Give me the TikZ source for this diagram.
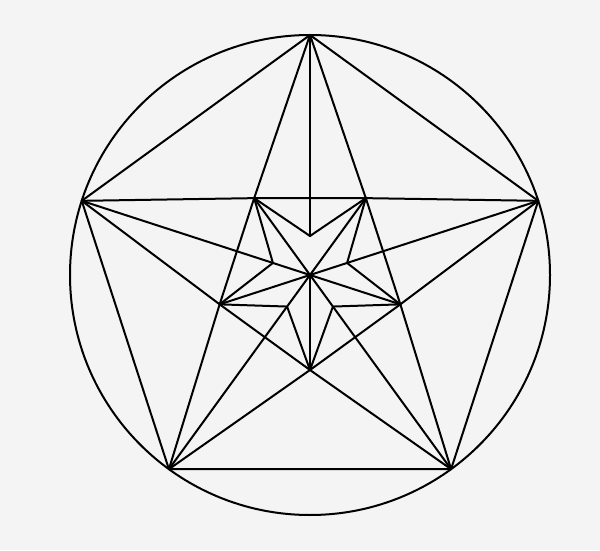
\documentclass[tikz,border=0pt]{standalone}
\definecolor{bgc}{HTML}{F4F4F4}
\begin{document}
\begin{tikzpicture}[x=1pt,y=1pt,
  ln/.style={draw=black,line width=2pt,line join=round,line cap=round}]
\fill[bgc] (0,0) rectangle (600,550);
\useasboundingbox (0,0) rectangle (600,550);
\coordinate (C) at (310,275);
\foreach \a in {90,18,306,234,162}{
  \path (C) ++(\a:240) coordinate (O\a);
  \path (C) ++(\a:39) coordinate (B\a);
}
\foreach \a in {270,342,54,126,198}{
  \path (C) ++(\a:95) coordinate (A\a);
}
% circle
\draw[ln] (C) circle (240pt);
% outer pentagon
\draw[ln] (O90) -- (O18) -- (O306) -- (O234) -- (O162) -- cycle;
% pentagram
\draw[ln] (O90) -- (A54) -- (A342) -- (O306);
\draw[ln] (O90) -- (A126) -- (A198) -- (O234);
\draw[ln] (O18) -- (A342) -- (A270) -- (O234);
\draw[ln] (O18) -- (A54) -- (A126) -- (O162);
\draw[ln] (O306) -- (A270) -- (A198) -- (O162);
% small star
\draw[ln] (A54) -- (B90) -- (A126) -- (B162) -- (A198) -- (B234) -- (A270) -- (B306) -- (A342) -- (B18) -- cycle;
% ridges
\foreach \a in {270,342,54,126,198}{ \draw[ln] (C) -- (A\a); }
% outer vertex to inner notch
\foreach \a in {90,18,306,234,162}{ \draw[ln] (O\a) -- (B\a); }
\foreach \a in {18,306,234,162}{ \draw[ln] (B\a) -- (C); }
\end{tikzpicture}
\end{document}
